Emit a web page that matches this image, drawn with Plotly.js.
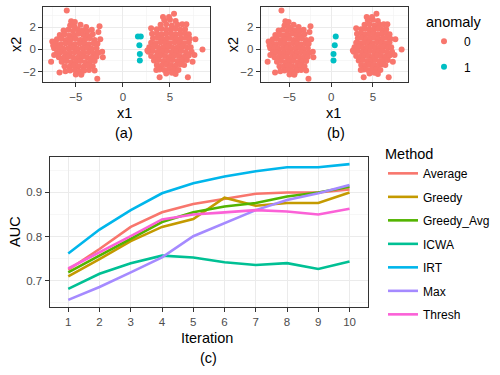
<!DOCTYPE html>
<html>
<head>
<meta charset="utf-8">
<script src="https://cdn.plot.ly/plotly-3.0.1.min.js"></script>
<style>
  html, body { margin: 0; padding: 0; background: #fff; }
  #chart { width: 500px; height: 375px; }
</style>
</head>
<body>
<div id="chart"></div>
<script>
// left cluster of normal points
var leftX1 = [
  -5.6, -5.15, -4.5, -3.9,
  -6.3, -5.8, -5.3, -4.8, -4.3, -3.8, -3.3,
  -6.7, -6.2, -5.7, -5.2, -4.7, -4.2, -3.7, -3.2,
  -7.0, -6.5, -6.0, -5.5, -5.0, -4.5, -4.0, -3.5, -3.0,
  -7.1, -6.6, -6.1, -5.6, -5.1, -4.6, -4.1, -3.6, -3.1, -2.7,
  -7.3, -6.8, -6.3, -5.8, -5.3, -4.8, -4.3, -3.8, -3.3, -2.8,
  -7.0, -6.6, -6.1, -5.6, -5.1, -4.6, -4.1, -3.6, -3.1, -2.6,
  -6.8, -6.3, -5.8, -5.3, -4.8, -4.3, -3.8, -3.3, -2.8,
  -6.5, -6.0, -5.5, -5.0, -4.5, -4.0, -3.5, -3.0,
  -6.2, -5.7, -5.2, -4.7, -4.2, -3.7, -3.2,
  -5.6, -5.1, -4.6, -4.1, -3.6,
  -5.0, -4.4,
  -5.96, -5.49, -5.1, -2.48, -2.72, -7.62, -6.73, -4.43, -2.13, -7.5, -7.4, -2.4, -2.6, -3.0, -6.1, -2.2, -7.3
];
var leftX2 = [
  2.15, 2.05, 2.2, 2.0,
  1.7, 1.75, 1.65, 1.8, 1.7, 1.6, 1.75,
  1.3, 1.35, 1.25, 1.3, 1.4, 1.3, 1.2, 1.35,
  0.9, 0.95, 0.85, 0.9, 0.95, 0.85, 0.9, 1.0, 0.85,
  0.5, 0.45, 0.55, 0.5, 0.45, 0.55, 0.5, 0.45, 0.55, 0.5,
  0.1, 0.15, 0.05, 0.1, 0.15, 0.05, 0.1, 0.15, 0.05, 0.1,
  -0.3, -0.25, -0.35, -0.3, -0.25, -0.35, -0.3, -0.25, -0.35, -0.3,
  -0.7, -0.75, -0.65, -0.7, -0.75, -0.65, -0.7, -0.75, -0.65,
  -1.1, -1.05, -1.15, -1.1, -1.05, -1.15, -1.1, -1.05,
  -1.5, -1.55, -1.45, -1.5, -1.55, -1.45, -1.5,
  -1.9, -1.85, -1.95, -1.9, -1.85,
  -2.25, -2.2,
  3.49, 2.52, 2.45, 2.07, -2.64, -1.1, -2.08, -2.28, -0.71, 0.7, 0.35, 0.9, 1.55, -1.9, -1.95, -0.2, -0.5
];
// right cluster of normal points
var rightX1 = [
  4.4, 5.0, 5.6,
  4.0, 4.6, 5.2, 5.8, 6.3,
  3.6, 4.1, 4.6, 5.1, 5.6, 6.1, 6.6,
  3.1, 3.6, 4.1, 4.6, 5.1, 5.6, 6.1, 6.6, 7.0,
  3.2, 3.7, 4.2, 4.7, 5.2, 5.7, 6.2, 6.7, 7.1,
  3.0, 3.5, 4.0, 4.5, 5.0, 5.5, 6.0, 6.5, 7.0,
  2.8, 3.3, 3.8, 4.3, 4.8, 5.3, 5.8, 6.3, 6.8, 7.2,
  2.7, 3.2, 3.7, 4.2, 4.7, 5.2, 5.7, 6.2, 6.7, 7.3,
  3.0, 3.5, 4.0, 4.5, 5.0, 5.5, 6.0, 6.5, 7.0,
  3.3, 3.8, 4.3, 4.8, 5.3, 5.8, 6.3, 6.8,
  3.6, 4.1, 4.6, 5.1, 5.6, 6.1, 6.5,
  3.9, 4.4, 4.9, 5.4, 5.9,
  4.6, 5.2,
  5.43, 4.26, 6.74, 8.45, 3.9, 6.9, 3.55, 7.6, 7.7, 2.6, 3.0, 4.9, 7.4, 5.6
];
var rightX2 = [
  2.6, 2.65, 2.55,
  2.2, 2.25, 2.15, 2.2, 2.25,
  1.8, 1.85, 1.75, 1.8, 1.85, 1.75, 1.8,
  1.4, 1.45, 1.35, 1.4, 1.45, 1.35, 1.4, 1.45, 1.35,
  1.0, 1.05, 0.95, 1.0, 1.05, 0.95, 1.0, 1.05, 0.95,
  0.6, 0.55, 0.65, 0.6, 0.55, 0.65, 0.6, 0.55, 0.65,
  0.2, 0.25, 0.15, 0.2, 0.25, 0.15, 0.2, 0.25, 0.15, 0.2,
  -0.2, -0.15, -0.25, -0.2, -0.15, -0.25, -0.2, -0.15, -0.25, -0.2,
  -0.6, -0.65, -0.55, -0.6, -0.65, -0.55, -0.6, -0.65, -0.55,
  -1.0, -0.95, -1.05, -1.0, -0.95, -1.05, -1.0, -0.95,
  -1.4, -1.45, -1.35, -1.4, -1.45, -1.35, -1.4,
  -1.8, -1.85, -1.75, -1.8, -1.85,
  -2.15, -2.1,
  3.2, 2.9, 2.25, 0.0, -2.49, -2.49, -1.84, -0.5, 0.9, -0.1, 1.9, 2.9, -1.1, -2.2
];
// anomalies in panel (a) and (b)
var anomAX1 = [1.6, 1.9, 1.75, 1.8, 1.8];
var anomAX2 = [1.15, 1.15, 0.38, -0.42, -1.0];
var anomBX1 = [0.55, 0.43, 0.28, 0.28];
var anomBX2 = [1.15, 0.38, -0.42, -1.0];

// AUC per iteration
var iterations = [1, 2, 3, 4, 5, 6, 7, 8, 9, 10];
var methods = ['Average', 'Greedy', 'Greedy_Avg', 'ICWA', 'IRT', 'Max', 'Thresh'];
var aucAverage   = [0.725, 0.772, 0.822, 0.855, 0.874, 0.885, 0.897, 0.900, 0.900, 0.907];
var aucGreedy    = [0.710, 0.749, 0.790, 0.822, 0.840, 0.888, 0.870, 0.876, 0.876, 0.900];
var aucGreedyAvg = [0.719, 0.757, 0.794, 0.833, 0.855, 0.868, 0.876, 0.891, 0.900, 0.913];
var aucICWA      = [0.682, 0.716, 0.740, 0.757, 0.753, 0.742, 0.736, 0.740, 0.727, 0.744];
var aucIRT       = [0.762, 0.816, 0.860, 0.898, 0.921, 0.936, 0.948, 0.957, 0.957, 0.964];
var aucMax       = [0.657, 0.686, 0.719, 0.753, 0.801, 0.831, 0.860, 0.883, 0.898, 0.917];
var aucThresh    = [0.728, 0.764, 0.801, 0.839, 0.850, 0.855, 0.860, 0.857, 0.850, 0.863];
var aucSeries = [aucAverage, aucGreedy, aucGreedyAvg, aucICWA, aucIRT, aucMax, aucThresh];
var colors = ['#F8766D', '#C49A00', '#53B400', '#00C094', '#00B6EB', '#A58AFF', '#FB61D7'];

var FONT = 'Liberation Sans, Arial, sans-serif';
var normX1 = leftX1.concat(rightX1);
var normX2 = leftX2.concat(rightX2);

var data = [];
function pts(x, y, xa, ya, color, name, show) {
  return {
    x: x, y: y, xaxis: xa, yaxis: ya,
    type: 'scatter', mode: 'markers', name: name,
    marker: {color: color, size: 6},
    showlegend: show, legend: 'legend', legendgroup: 'g' + name,
    hoverinfo: 'skip'
  };
}
data.push(pts(normX1, normX2, 'x', 'y', '#F8766D', '0', true));
data.push(pts(anomAX1, anomAX2, 'x', 'y', '#00BFC4', '1', true));
data.push(pts(normX1, normX2, 'x2', 'y2', '#F8766D', '0', false));
data.push(pts(anomBX1, anomBX2, 'x2', 'y2', '#00BFC4', '1', false));

methods.forEach(function(m, i) {
  data.push({
    x: iterations, y: aucSeries[i], xaxis: 'x3', yaxis: 'y3',
    type: 'scatter', mode: 'lines', name: m,
    line: {color: colors[i], width: 2.6},
    legend: 'legend2', legendgroup: m,
    hoverinfo: 'skip'
  });
});

function axis(extra) {
  return Object.assign({
    showline: true, mirror: true, linecolor: '#333333', linewidth: 1,
    ticks: 'outside', ticklen: 4, tickcolor: '#333333', tickwidth: 1,
    tickfont: {family: FONT, size: 11.5, color: '#4D4D4D'},
    gridcolor: '#EBEBEB', gridwidth: 1, zeroline: false, fixedrange: true
  }, extra);
}
var minorX = {dtick: 2.5, tick0: 0, showgrid: true, gridcolor: '#F2F2F2', gridwidth: 0.6, ticks: ''};
var minorY = {dtick: 1, tick0: 0, showgrid: true, gridcolor: '#F2F2F2', gridwidth: 0.6, ticks: ''};

function px(v) { return v / 500; }
function py(v) { return 1 - v / 375; }

function label(text, x, y, angle, size) {
  return {
    text: text, x: px(x), y: py(y), xref: 'paper', yref: 'paper',
    xanchor: 'center', yanchor: 'middle', showarrow: false,
    textangle: angle || 0,
    font: {family: FONT, size: size || 14.5, color: '#000'}
  };
}

var layout = {
  width: 500, height: 375,
  margin: {l: 0, r: 0, t: 0, b: 0},
  paper_bgcolor: '#fff', plot_bgcolor: '#fff',
  xaxis: axis({domain: [px(43.3), px(210)], range: [-8.45, 9.25], dtick: 5, tick0: 0, minor: minorX, anchor: 'y'}),
  yaxis: axis({domain: [py(82), py(7.3)], range: [-2.92, 3.77], dtick: 2, tick0: 0, minor: minorY, anchor: 'x'}),
  xaxis2: axis({domain: [px(260.7), px(408.3)], range: [-8.45, 9.25], dtick: 5, tick0: 0, minor: minorX, anchor: 'y2'}),
  yaxis2: axis({domain: [py(82), py(7.3)], range: [-2.92, 3.77], dtick: 2, tick0: 0, minor: minorY, anchor: 'x2'}),
  xaxis3: axis({domain: [px(49.5), px(368.3)], range: [0.4, 10.6], dtick: 1, tick0: 0, anchor: 'y3'}),
  yaxis3: axis({domain: [py(306.7), py(157.3)], range: [0.6415, 0.9795], dtick: 0.1, tick0: 0, tickformat: '.1f',
    minor: {dtick: 0.05, tick0: 0, showgrid: true, gridcolor: '#F2F2F2', gridwidth: 0.6, ticks: ''}, anchor: 'x3'}),
  legend: {
    x: px(424), y: py(8), xanchor: 'left', yanchor: 'top',
    bgcolor: 'rgba(0,0,0,0)', borderwidth: 0, tracegroupgap: 6.5,
    title: {text: 'anomaly', font: {family: FONT, size: 14.5, color: '#000'}},
    font: {family: FONT, size: 12, color: '#000'}
  },
  legend2: {
    x: px(383), y: py(140), xanchor: 'left', yanchor: 'top',
    bgcolor: 'rgba(0,0,0,0)', borderwidth: 0, tracegroupgap: 4.5,
    title: {text: 'Method', font: {family: FONT, size: 14.5, color: '#000'}},
    font: {family: FONT, size: 12, color: '#000'}
  },
  annotations: [
    label('x1', 124, 113), label('(a)', 123.5, 133),
    label('x1', 333, 113), label('(b)', 336, 133),
    label('x2', 16, 45, -90), label('x2', 233.3, 45, -90),
    label('AUC', 15, 232, -90),
    label('Iteration', 207, 338.3), label('(c)', 208.3, 358.3)
  ]
};

Plotly.newPlot('chart', data, layout, {displayModeBar: false, staticPlot: true});
</script>
</body>
</html>
